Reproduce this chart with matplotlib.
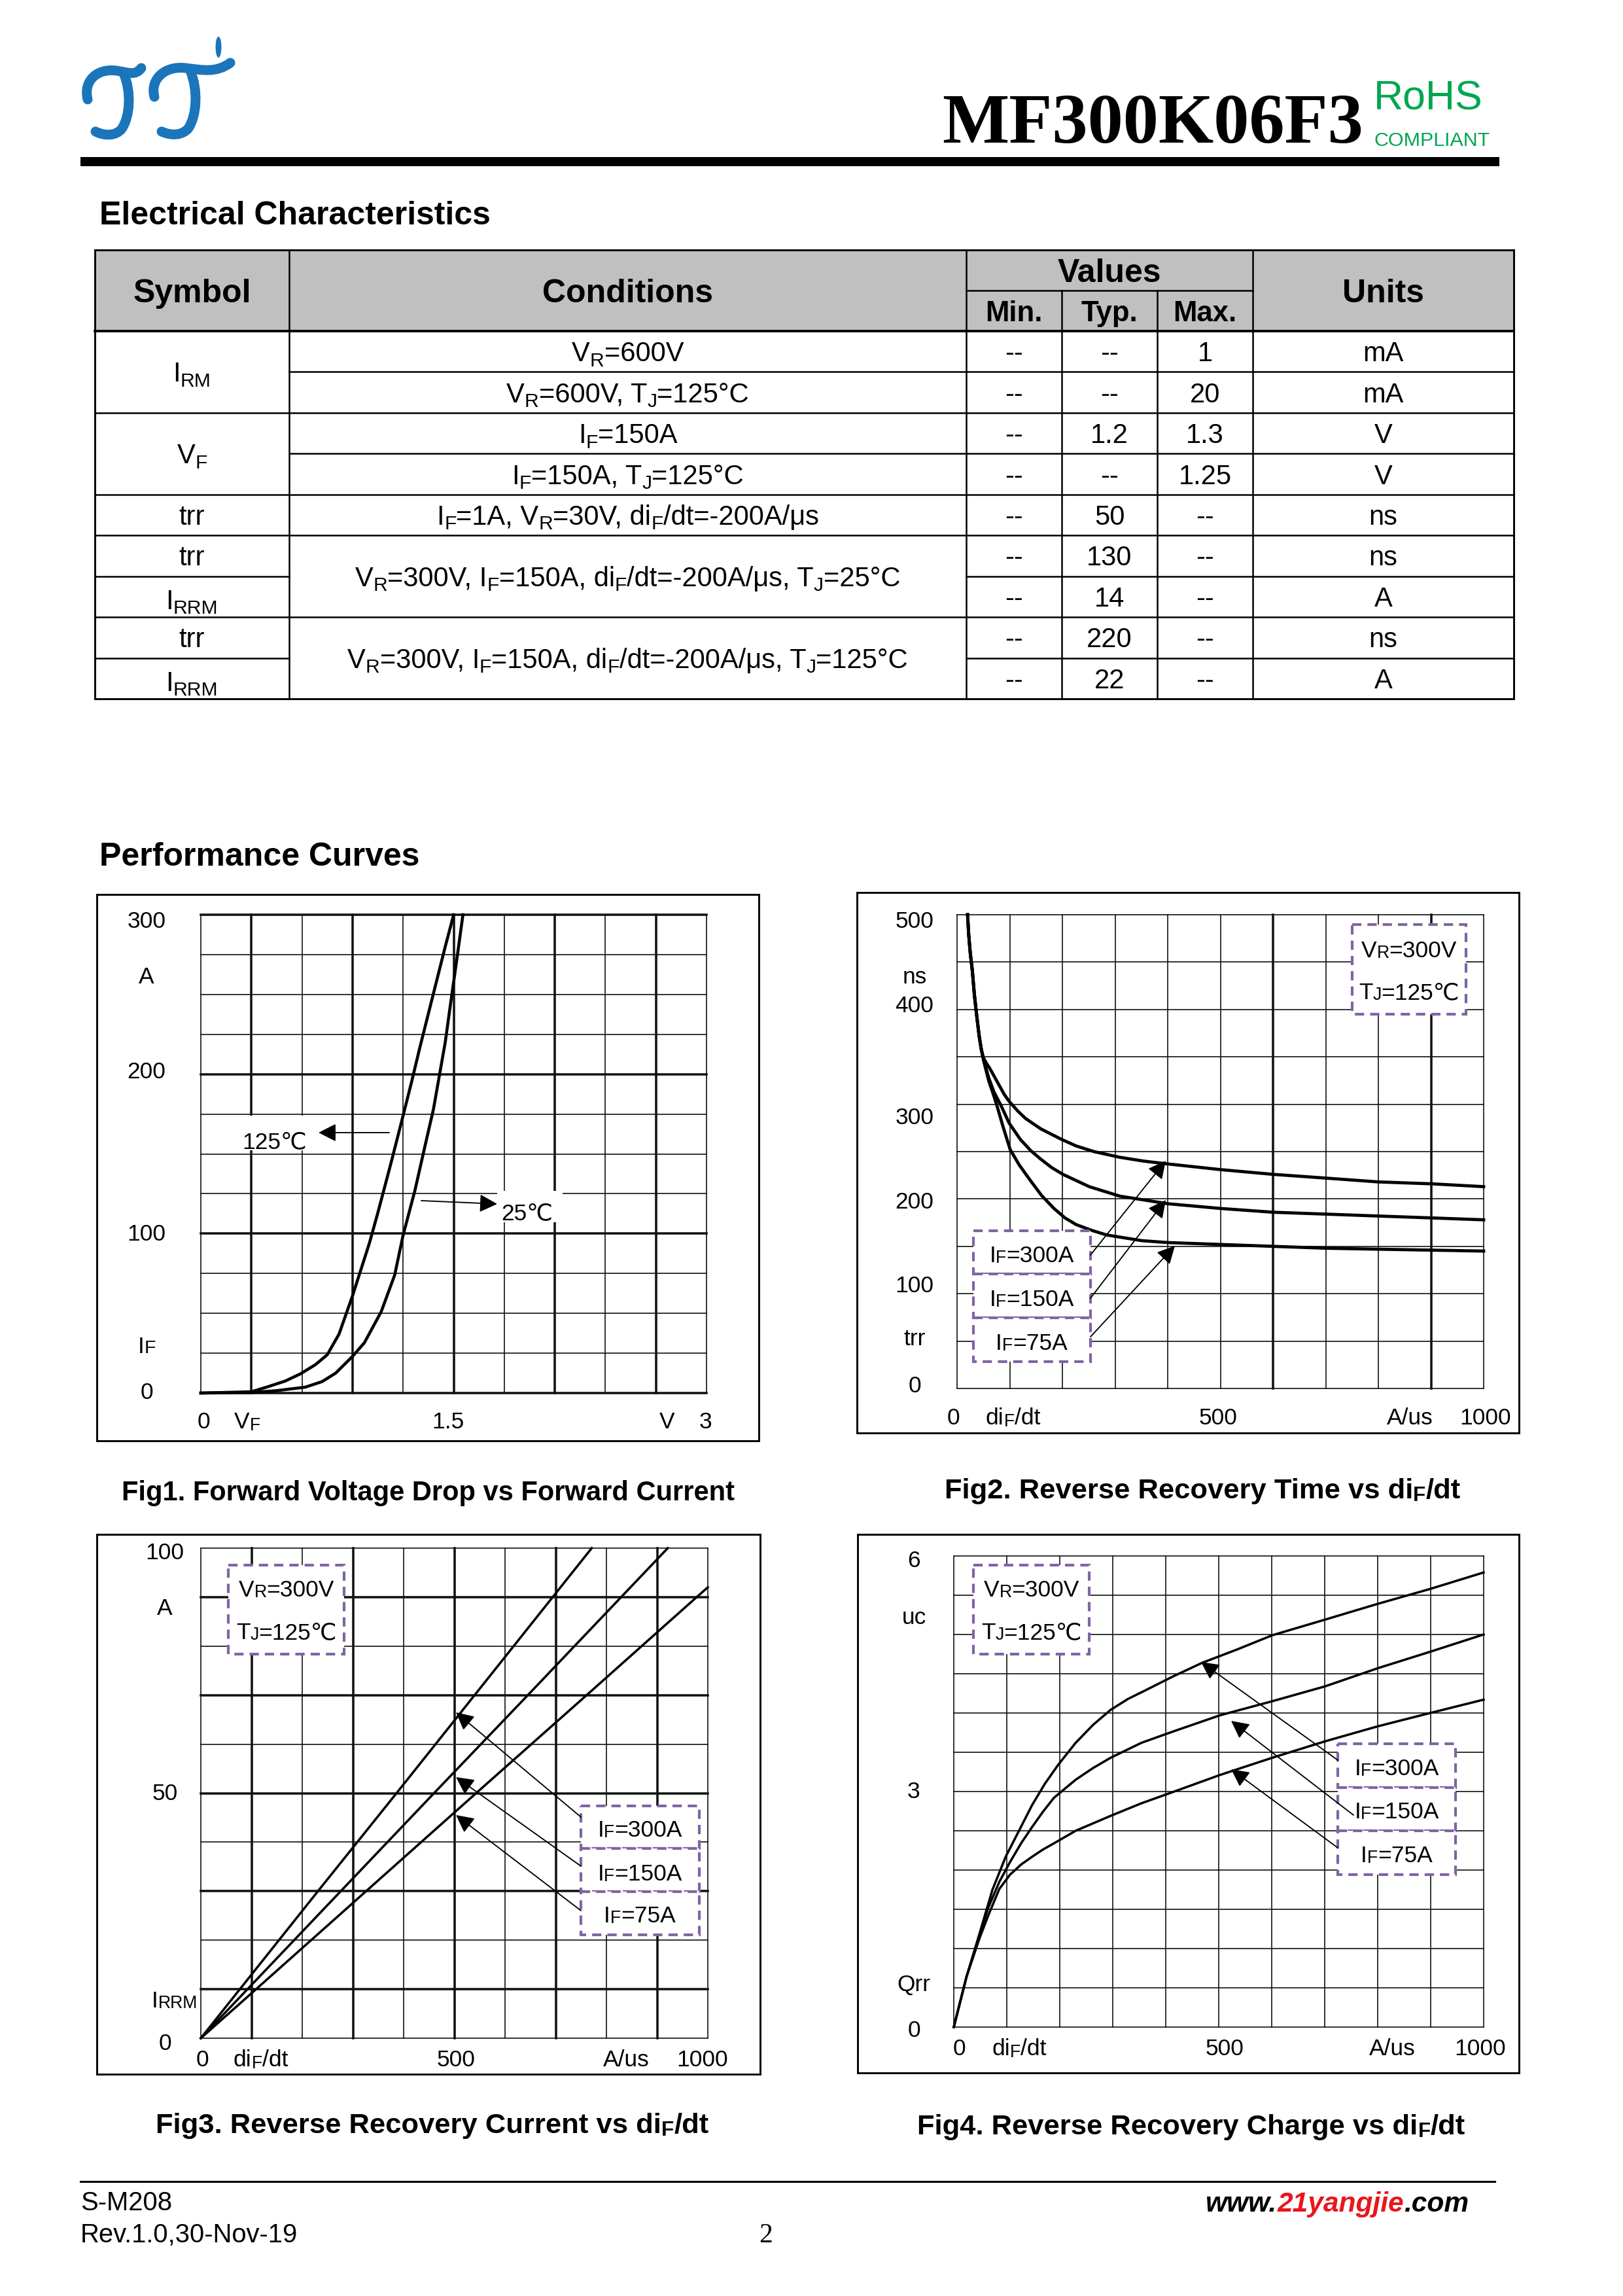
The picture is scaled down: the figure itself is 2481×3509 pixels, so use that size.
import re
import numpy as np
import matplotlib
matplotlib.use('Agg')
import matplotlib.pyplot as plt
from matplotlib.transforms import Affine2D
from matplotlib.patches import Rectangle, FancyArrowPatch, PathPatch, Ellipse
from matplotlib.path import Path
from matplotlib.lines import Line2D

# ------------------------------------------------------------------ data
# Electrical characteristics table
tbl_symbols = ['I_{RM}', 'V_{F}', 'trr', 'trr', 'I_{RRM}', 'trr', 'I_{RRM}']
tbl_symbol_rows = [(0, 2), (2, 4), (4, 5), (5, 6), (6, 7), (7, 8), (8, 9)]
tbl_conditions = ['V_{R}=600V',
                  'V_{R}=600V, T_{J}=125°C',
                  'I_{F}=150A',
                  'I_{F}=150A, T_{J}=125°C',
                  'I_{F}=1A, V_{R}=30V, di_{F}/dt=-200A/μs',
                  'V_{R}=300V, I_{F}=150A, di_{F}/dt=-200A/μs, T_{J}=25°C',
                  'V_{R}=300V, I_{F}=150A, di_{F}/dt=-200A/μs, T_{J}=125°C']
tbl_condition_rows = [(0, 1), (1, 2), (2, 3), (3, 4), (4, 5), (5, 7), (7, 9)]
tbl_min = ['--', '--', '--', '--', '--', '--', '--', '--', '--']
tbl_typ = ['--', '--', '1.2', '--', '50', '130', '14', '220', '22']
tbl_max = ['1', '20', '1.3', '1.25', '--', '--', '--', '--', '--']
tbl_units = ['mA', 'mA', 'V', 'V', 'ns', 'ns', 'A', 'ns', 'A']

# Fig1  forward voltage (V) vs forward current (A)
f1_v125 = [0.0, 0.30, 0.39, 0.50, 0.59, 0.68, 0.75, 0.82, 0.90, 1.00, 1.05, 1.13, 1.20, 1.25, 1.30, 1.35, 1.40, 1.45, 1.50]
f1_i125 = [0.0, 0.8, 3.7, 7.5, 12.0, 17.8, 24.0, 37.0, 61.0, 94.0, 113, 145, 174, 195, 217, 238, 259, 280, 300]
f1_v25 = [0.0, 0.30, 0.45, 0.62, 0.72, 0.80, 0.90, 0.97, 1.07, 1.15, 1.20, 1.27, 1.33, 1.38, 1.41, 1.45, 1.48, 1.52, 1.555]
f1_i25 = [0.0, 0.3, 1.5, 3.7, 7.2, 12.5, 23.0, 31.5, 51.0, 74.0, 99.0, 127, 155, 178, 196, 220, 243, 273, 300]

# Fig2  trr (ns) vs diF/dt (A/us)
f2_di_300 = [20, 22, 25, 29, 33, 37, 42, 46, 50, 56, 62, 70, 80, 90, 99, 115, 130, 159, 198, 226, 260, 309, 354, 400, 500, 600, 701, 800, 901, 1000]
f2_trr_300 = [500, 480, 460, 441, 415, 395, 372, 358, 349, 343, 338, 330, 320, 310, 303, 293, 285, 274, 263, 256, 250, 244, 240, 237, 231, 226, 222, 218, 216, 213]
f2_di_150 = [20, 22, 25, 29, 33, 37, 42, 46, 50, 55, 60, 70, 84, 99, 120, 140, 159, 180, 201, 251, 309, 400, 500, 600, 701, 800, 901, 1000]
f2_trr_150 = [500, 480, 460, 441, 415, 395, 372, 358, 348, 338, 328, 313, 298, 280, 263, 251, 242, 233, 226, 213, 203, 195, 190, 186, 184, 182, 180, 178]
f2_di_75 = [20, 22, 25, 29, 33, 37, 42, 46, 50, 55, 60, 68, 76, 88, 101, 118, 136, 160, 184, 205, 226, 255, 284, 351, 400, 500, 600, 701, 800, 901, 1000]
f2_trr_75 = [500, 480, 460, 441, 415, 395, 372, 358, 347, 336, 325, 312, 298, 275, 252, 236, 222, 204, 190, 180, 173, 167, 162, 156, 154, 152, 150, 148, 147, 146, 145]

# Fig3  IRRM (A) vs diF/dt (A/us)
f3_di_300 = [0, 77, 231, 386, 540, 694, 771]
f3_i_300 = [0, 10, 30, 50, 70, 90, 100]
f3_di_150 = [0, 92, 276, 460, 645, 829, 921]
f3_i_150 = [0, 10, 30, 50, 70, 90, 100]
f3_di_75 = [0, 109, 326, 543, 761, 978, 1000]
f3_i_75 = [0, 10, 30, 50, 70, 90, 92]

# Fig4  Qrr (uC) vs diF/dt (A/us)
f4_di_300 = [0, 12, 24, 49, 73, 98, 123, 148, 172, 197, 230, 263, 296, 329, 362, 412, 469, 535, 601, 701, 800, 899, 1000]
f4_q_300 = [0, 0.32, 0.64, 1.20, 1.75, 2.17, 2.50, 2.83, 3.10, 3.34, 3.62, 3.85, 4.04, 4.18, 4.29, 4.46, 4.64, 4.81, 4.99, 5.19, 5.39, 5.58, 5.79]
f4_di_150 = [0, 12, 24, 49, 65, 86, 106, 127, 148, 168, 189, 230, 263, 296, 354, 412, 502, 601, 701, 800, 899, 1000]
f4_q_150 = [0, 0.32, 0.64, 1.18, 1.52, 1.85, 2.10, 2.34, 2.55, 2.74, 2.92, 3.15, 3.30, 3.43, 3.62, 3.76, 3.97, 4.15, 4.34, 4.57, 4.78, 5.00]
f4_di_75 = [0, 12, 24, 49, 65, 86, 106, 127, 148, 168, 189, 230, 296, 354, 412, 502, 601, 701, 800, 899, 1000]
f4_q_75 = [0, 0.32, 0.64, 1.14, 1.42, 1.76, 1.94, 2.07, 2.17, 2.26, 2.34, 2.50, 2.69, 2.85, 2.99, 3.21, 3.43, 3.64, 3.83, 4.00, 4.17]

# ------------------------------------------------------------------ page setup
W, H, DPI = 2481, 3509, 300
fig = plt.figure(figsize=(W / DPI, H / DPI), dpi=DPI)
fig.patch.set_facecolor('white')
PX = Affine2D().scale(1, -1).translate(0, H)      # top-left pixel coordinates
renderer = fig.canvas.get_renderer()
SANS = ['Liberation Sans', 'DejaVu Sans']
SERIF = ['Liberation Serif', 'DejaVu Serif']
PURPLE = '#8064A2'

SUBRE = re.compile(r'_\{([^}]*)\}')


def parse(s):
    out, pos = [], 0
    for m in SUBRE.finditer(s):
        if m.start() > pos:
            out.append((s[pos:m.start()], False))
        out.append((m.group(1), True))
        pos = m.end()
    if pos < len(s):
        out.append((s[pos:], False))
    return out


_cache = {}


def adv(s, size, weight, style, family):
    key = (s, size, weight, style, tuple(family))
    if key not in _cache:
        kw = dict(fontsize=size, fontweight=weight, fontstyle=style, family=family)
        t1 = fig.text(0, 0, '|' + s + '|', **kw)
        t2 = fig.text(0, 0, '||', **kw)
        _cache[key] = (t1.get_window_extent(renderer).width -
                       t2.get_window_extent(renderer).width)
        t1.remove()
        t2.remove()
    return _cache[key]


def rich(x, y, s, size, ha='center', weight='normal', style='normal', color='black',
         family=SANS, sub_scale=0.72, sub_shift=0.10, zorder=6, colors=None):
    parts = parse(s)
    px = size * DPI / 72.0
    widths = [adv(t, size * sub_scale if sb else size, weight, style, family) for t, sb in parts]
    total = sum(widths)
    x0 = x - total / 2 if ha == 'center' else (x - total if ha == 'right' else x)
    cx = x0
    for i, ((t, sb), w) in enumerate(zip(parts, widths)):
        sz = size * sub_scale if sb else size
        yy = y + (sub_shift * px if sb else 0)
        c = colors[i] if colors else color
        fig.text(cx, yy, t, transform=PX, fontsize=sz, fontweight=weight, fontstyle=style,
                 color=c, family=family, ha='left', va='baseline', zorder=zorder)
        cx += w
    return x0, total


def hline(x0, x1, y, lw=0.6, color='black', z=2):
    fig.add_artist(Line2D([x0, x1], [y, y], transform=PX, color=color, lw=lw, zorder=z,
                          solid_capstyle='projecting'))


def vline(x, y0, y1, lw=0.6, color='black', z=2):
    fig.add_artist(Line2D([x, x], [y0, y1], transform=PX, color=color, lw=lw, zorder=z,
                          solid_capstyle='projecting'))


def rect(x0, y0, x1, y1, lw=0.7, ec='black', fc='none', ls='-', z=2):
    fig.add_artist(Rectangle((x0, y0), x1 - x0, y1 - y0, transform=PX, lw=lw, ec=ec, fc=fc,
                             ls=ls, zorder=z))


def dbox(x0, y0, x1, y1):
    rect(x0, y0, x1, y1, lw=1.0, ec=PURPLE, fc='white', ls=(0, (3.4, 2.2)), z=4)


def arrow(x0, y0, x1, y1, lw=0.45):
    fig.add_artist(FancyArrowPatch((x0, y0), (x1, y1), transform=PX,
                                   arrowstyle='-|>,head_length=5.5,head_width=2.8',
                                   mutation_scale=1, lw=lw, color='black',
                                   shrinkA=0, shrinkB=0, zorder=5))


def whitebox(x0, y0, x1, y1):
    rect(x0, y0, x1, y1, lw=0, ec='none', fc='white', z=3)


# ------------------------------------------------------------------ header
BLUE = '#1b75bb'
M, C = Path.MOVETO, Path.CURVE4
logo_strokes = [
    # left glyph: top wave and stem
    ([M, C, C, C, C, C, C], [(134, 152), (127, 124), (148, 104), (178, 108),
                             (197, 111), (207, 116), (216, 104)]),
    ([M, C, C, C, C, C, C], [(189, 112), (201, 140), (199, 178), (186, 197),
                             (177, 208), (160, 208), (146, 201)]),
    # right glyph: top wave and stem
    ([M, C, C, C, C, C, C], [(236, 148), (229, 121), (252, 100), (284, 104),
                             (310, 107), (330, 112), (352, 96)]),
    ([M, C, C, C, C, C, C], [(291, 108), (303, 138), (301, 176), (288, 196),
                             (279, 207), (262, 208), (247, 201)]),
]
for codes, verts in logo_strokes:
    fig.add_artist(PathPatch(Path(verts, codes), transform=PX, fc='none', ec=BLUE, lw=3.6,
                             capstyle='round', zorder=3))
fig.add_artist(Ellipse((334, 72), 9, 32, transform=PX, fc=BLUE, ec='none', zorder=3))

fig.text(1440, 218, 'MF300K06F3', transform=PX, fontsize=26, fontweight='bold', family=SERIF,
         ha='left', va='baseline')
fig.text(2100, 167, 'RoHS', transform=PX, fontsize=15, color='#00a650', family=SANS,
         ha='left', va='baseline')
fig.text(2100, 223, 'COMPLIANT', transform=PX, fontsize=7.3, color='#00a650', family=SANS,
         ha='left', va='baseline')
fig.add_artist(Rectangle((123, 240), 2292 - 123, 14, transform=PX, fc='black', ec='none', zorder=3))

fig.text(152, 343, 'Electrical Characteristics', transform=PX, fontsize=12, fontweight='bold',
         family=SANS, ha='left', va='baseline')
fig.text(152, 1323, 'Performance Curves', transform=PX, fontsize=12, fontweight='bold',
         family=SANS, ha='left', va='baseline')

# ------------------------------------------------------------------ table
TC = [145, 442, 1477, 1623, 1769, 1915, 2314]
T_TOP, T_MID, T_HDR = 382, 444, 506
ROWH = 62.44
NR = len(tbl_units)
T_BOT = T_HDR + NR * ROWH
fig.add_artist(Rectangle((TC[0], T_TOP), TC[-1] - TC[0], T_HDR - T_TOP, transform=PX,
                         fc='#c0c0c0', ec='none', zorder=1))
LW_T = 0.6
rect(TC[0], T_TOP, TC[-1], T_BOT, lw=0.7)
for xc in (TC[1], TC[2], TC[5]):
    vline(xc, T_TOP, T_BOT, LW_T)
for xc in (TC[3], TC[4]):
    vline(xc, T_MID, T_BOT, LW_T)
hline(TC[2], TC[5], T_MID, LW_T)
hline(TC[0], TC[-1], T_HDR, 0.9)
sym_bounds = set(r for a, b in tbl_symbol_rows for r in (a, b))
cond_bounds = set(r for a, b in tbl_condition_rows for r in (a, b))
for k in range(1, NR):
    y = T_HDR + k * ROWH
    if k in sym_bounds and k in cond_bounds:
        hline(TC[0], TC[-1], y, LW_T)
    elif k in cond_bounds:
        hline(TC[1], TC[-1], y, LW_T)
    else:
        hline(TC[0], TC[1], y, LW_T)
        hline(TC[2], TC[-1], y, LW_T)

HB = 12
rich((TC[0] + TC[1]) / 2, 462, 'Symbol', HB, weight='bold')
rich((TC[1] + TC[2]) / 2, 462, 'Conditions', HB, weight='bold')
rich((TC[2] + TC[5]) / 2, 431, 'Values', HB, weight='bold')
rich((TC[5] + TC[6]) / 2, 462, 'Units', HB, weight='bold')
for i, lab in enumerate(['Min.', 'Typ.', 'Max.']):
    rich((TC[2 + i] + TC[3 + i]) / 2, 491, lab, 10.5, weight='bold')

BS = 10


def row_base(a, b):
    return T_HDR + (a + b) / 2 * ROWH + 15


for s, (a, b) in zip(tbl_symbols, tbl_symbol_rows):
    rich((TC[0] + TC[1]) / 2, row_base(a, b) + (4 if 'RRM' in s else 0), s, BS, sub_shift=0.18)
for s, (a, b) in zip(tbl_conditions, tbl_condition_rows):
    rich((TC[1] + TC[2]) / 2, row_base(a, b), s, BS, sub_shift=0.18)
for i in range(NR):
    for j, col in enumerate([tbl_min, tbl_typ, tbl_max, tbl_units]):
        rich((TC[2 + j] + TC[3 + j]) / 2, row_base(i, i + 1), col[i], BS)

# ------------------------------------------------------------------ chart helpers
LAB = 8.5
THIN, THICK = 0.4, 0.85


def make_axes(x0, y0, x1, y1, xlim, ylim):
    ax = fig.add_axes([x0 / W, 1 - y1 / H, (x1 - x0) / W, (y1 - y0) / H])
    ax.set_xlim(*xlim)
    ax.set_ylim(*ylim)
    ax.axis('off')
    return ax


def grid(ax, xs, ys, thick_x=(), thick_y=()):
    for v in xs:
        ax.axvline(v, color='#111111', lw=THICK if np.isclose(thick_x, v).any() else THIN,
                   clip_on=False, zorder=1)
    for v in ys:
        ax.axhline(v, color='#111111', lw=THICK if np.isclose(thick_y, v).any() else THIN,
                   clip_on=False, zorder=1)


CURVE = dict(color='black', zorder=3, clip_on=False, solid_joinstyle='round')

# ------------------------------------------------------------------ Fig1
rect(148, 1367, 1160, 2202, lw=0.7)
ax1 = make_axes(307, 1398, 1080, 2129, (0, 3), (0, 300))
grid(ax1, np.round(np.arange(0, 3.01, 0.3), 2), np.arange(0, 301, 25),
     thick_x=[0.3, 0.9, 1.5, 2.1, 2.7], thick_y=[0, 100, 200, 300])
ax1.plot(f1_v125, f1_i125, lw=1.1, **CURVE)
ax1.plot(f1_v25, f1_i25, lw=1.1, **CURVE)
for txt, yb in [('300', 1418), ('A', 1503), ('200', 1648), ('100', 1896), ('I_{F}', 2068), ('0', 2138)]:
    rich(224, yb, txt, LAB, sub_shift=0.0, sub_scale=0.8)
for txt, xc in [('0', 311), ('1.5', 685), ('V', 1020), ('3', 1079)]:
    rich(xc, 2183, txt, LAB)
rich(358, 2183, 'V_{F}', LAB, ha='left', sub_shift=0.08, sub_scale=0.75)
whitebox(364, 1705, 476, 1758)
rich(370, 1755, '125℃', LAB, ha='left')
arrow(595, 1731, 487, 1731)
whitebox(760, 1820, 860, 1868)
rich(766, 1864, '25℃', LAB, ha='left')
arrow(644, 1835, 760, 1840)
rich(655, 2293, 'Fig1. Forward Voltage Drop vs Forward Current', 10, weight='bold')

# ------------------------------------------------------------------ Fig2
rect(1310, 1364, 2322, 2190, lw=0.7)
ax2 = make_axes(1463, 1398, 2268, 2122, (0, 1000), (0, 500))
grid(ax2, np.arange(0, 1001, 100), np.arange(0, 501, 50), thick_x=[600, 900])
for xs, ys in [(f2_di_300, f2_trr_300), (f2_di_150, f2_trr_150), (f2_di_75, f2_trr_75)]:
    ax2.plot(xs, ys, lw=1.15, **CURVE)
for txt, yb in [('500', 1418), ('ns', 1503), ('400', 1547), ('300', 1718), ('200', 1847),
                ('100', 1975), ('trr', 2056), ('0', 2128)]:
    rich(1398, yb, txt, LAB)
for txt, xc in [('0', 1457), ('500', 1862), ('A/us', 2155), ('1000', 2271)]:
    rich(xc, 2177, txt, LAB)
rich(1507, 2177, 'di_{F}/dt', LAB, ha='left', sub_shift=0.08, sub_scale=0.75)
dbox(2067, 1413, 2241, 1550)
rich(2154, 1463, 'V_{R}=300V', LAB, sub_shift=0.03, sub_scale=0.75)
rich(2154, 1527, 'T_{J}=125℃', LAB, sub_shift=0.03, sub_scale=0.75)
for (y0, y1), lab, yb in zip([(1881, 1947), (1947, 2014), (2014, 2081)],
                             ['I_{F}=300A', 'I_{F}=150A', 'I_{F}=75A'], [1929, 1996, 2063]):
    dbox(1488, y0, 1667, y1)
    rich(1577, yb, lab, LAB, sub_shift=0.03, sub_scale=0.75)
arrow(1667, 1918, 1782, 1774)
arrow(1667, 1984, 1782, 1834)
arrow(1667, 2043, 1796, 1904)
rich(1838, 2290, 'Fig2. Reverse Recovery Time vs di_{F}/dt', 10.45, weight='bold', sub_shift=0.1)

# ------------------------------------------------------------------ Fig3
rect(148, 2345, 1162, 3170, lw=0.7)
ax3 = make_axes(307, 2366, 1082, 3115, (0, 1000), (0, 100))
grid(ax3, np.arange(0, 1001, 100), np.arange(0, 101, 10),
     thick_x=[100, 300, 500, 700, 900], thick_y=[10, 30, 50, 70, 90])
for xs, ys in [(f3_di_300, f3_i_300), (f3_di_150, f3_i_150), (f3_di_75, f3_i_75)]:
    ax3.plot(xs, ys, lw=0.85, **CURVE)
for txt, yb in [('100', 2383), ('A', 2468), ('50', 2751), ('0', 3133)]:
    rich(252, yb, txt, LAB)
rich(232, 3068, 'I_{RRM}', LAB, ha='left', sub_shift=0.03, sub_scale=0.75)
for txt, xc in [('0', 309), ('500', 697), ('A/us', 957), ('1000', 1074)]:
    rich(xc, 3158, txt, LAB)
rich(357, 3158, 'di_{F}/dt', LAB, ha='left', sub_shift=0.08, sub_scale=0.75)
dbox(349, 2392, 526, 2528)
rich(438, 2440, 'V_{R}=300V', LAB, sub_shift=0.03, sub_scale=0.75)
rich(438, 2505, 'T_{J}=125℃', LAB, sub_shift=0.03, sub_scale=0.75)
for (y0, y1), lab, yb in zip([(2760, 2825), (2825, 2891), (2891, 2957)],
                             ['I_{F}=300A', 'I_{F}=150A', 'I_{F}=75A'], [2807, 2874, 2938]):
    dbox(888, y0, 1069, y1)
    rich(978, yb, lab, LAB, sub_shift=0.03, sub_scale=0.75)
arrow(888, 2777, 697, 2617)
arrow(888, 2852, 697, 2716)
arrow(888, 2920, 697, 2774)
rich(661, 3260, 'Fig3. Reverse Recovery Current vs di_{F}/dt', 10.45, weight='bold', sub_shift=0.1)

# ------------------------------------------------------------------ Fig4
rect(1311, 2345, 2322, 3168, lw=0.7)
ax4 = make_axes(1458, 2378, 2268, 3098, (0, 1000), (0, 6))
grid(ax4, np.arange(0, 1001, 100), np.arange(0, 6.01, 0.5))
for xs, ys in [(f4_di_300, f4_q_300), (f4_di_150, f4_q_150), (f4_di_75, f4_q_75)]:
    ax4.plot(xs, ys, lw=0.85, **CURVE)
for txt, yb in [('6', 2395), ('uc', 2482), ('3', 2748), ('Qrr', 3043), ('0', 3113)]:
    rich(1397, yb, txt, LAB)
for txt, xc in [('0', 1466), ('500', 1872), ('A/us', 2128), ('1000', 2263)]:
    rich(xc, 3141, txt, LAB)
rich(1516, 3141, 'di_{F}/dt', LAB, ha='left', sub_shift=0.08, sub_scale=0.75)
dbox(1488, 2392, 1665, 2528)
rich(1577, 2440, 'V_{R}=300V', LAB, sub_shift=0.03, sub_scale=0.75)
rich(1577, 2505, 'T_{J}=125℃', LAB, sub_shift=0.03, sub_scale=0.75)
for (y0, y1), lab, yb in zip([(2665, 2732), (2732, 2798), (2798, 2865)],
                             ['I_{F}=300A', 'I_{F}=150A', 'I_{F}=75A'], [2713, 2779, 2846]):
    dbox(2045, y0, 2225, y1)
    rich(2135, yb, lab, LAB, sub_shift=0.03, sub_scale=0.75)
arrow(2045, 2690, 1836, 2540)
arrow(2069, 2774, 1882, 2630)
arrow(2045, 2824, 1882, 2704)
rich(1821, 3262, 'Fig4. Reverse Recovery Charge vs di_{F}/dt', 10.45, weight='bold', sub_shift=0.1)

# ------------------------------------------------------------------ footer
hline(123, 2285, 3334, lw=0.75)
fig.text(123, 3378, 'S-M208', transform=PX, fontsize=9.6, family=SANS, ha='left', va='baseline')
fig.text(123, 3427, 'Rev.1.0,30-Nov-19', transform=PX, fontsize=9.6, family=SANS, ha='left',
         va='baseline')
fig.text(1170, 3427, '2', transform=PX, fontsize=10, family=SERIF, ha='center', va='baseline')
url_parts = ['www.', '21yangjie', '.com']
url_cols = ['black', '#e8161d', 'black']
ws = [adv(p, 10.2, 'bold', 'italic', SANS) for p in url_parts]
cx = 2245 - sum(ws)
for p, c, w in zip(url_parts, url_cols, ws):
    fig.text(cx, 3380, p, transform=PX, fontsize=10.2, fontweight='bold', fontstyle='italic',
             color=c, family=SANS, ha='left', va='baseline', zorder=6)
    cx += w

fig.savefig('out.png', dpi=DPI, facecolor='white')
